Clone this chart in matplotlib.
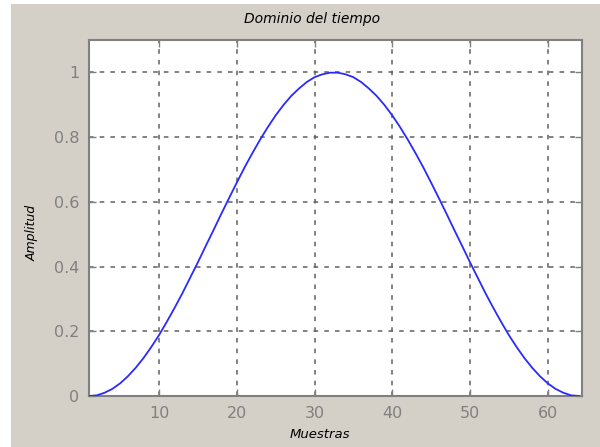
import matplotlib.pyplot as plt
from matplotlib.patches import Rectangle

# ventana de 64 muestras
muestras = list(range(1, 65))
amplitud = [0.000, 0.002, 0.010, 0.022, 0.039, 0.061, 0.087, 0.117,
            0.151, 0.188, 0.229, 0.272, 0.317, 0.365, 0.413, 0.463,
            0.512, 0.562, 0.611, 0.659, 0.706, 0.750, 0.792, 0.831,
            0.867, 0.899, 0.927, 0.950, 0.970, 0.985, 0.994, 0.999,
            0.999, 0.994, 0.985, 0.970, 0.950, 0.927, 0.899, 0.867,
            0.831, 0.792, 0.750, 0.706, 0.659, 0.611, 0.562, 0.512,
            0.463, 0.413, 0.365, 0.317, 0.272, 0.229, 0.188, 0.151,
            0.117, 0.087, 0.061, 0.039, 0.022, 0.010, 0.002, 0.000]
xticks = [10, 20, 30, 40, 50, 60]
yticks = [0, 0.2, 0.4, 0.6, 0.8, 1]

plt.rcParams['font.family'] = ['DejaVu Sans']

W, H = 600, 447
fig = plt.figure(figsize=(W / 100, H / 100), dpi=100, facecolor='white')
# fondo gris de la ventana
fig.add_artist(Rectangle((11 / W, 0), 1, 443 / H,
                         transform=fig.transFigure, facecolor='#d4d0c8',
                         edgecolor='none', zorder=-5))

ax = fig.add_axes([89 / W, 1 - 396 / H, 493 / W, 356 / H])
ax.set_facecolor('white')
ax.plot(muestras, amplitud, color='#2a2aff', lw=1.3, zorder=3)

ax.set_xlim(1, 64.4)
ax.set_ylim(0, 1.1)
ax.set_xticks(xticks)
ax.set_yticks(yticks)
ax.set_yticklabels(['0', '0.2', '0.4', '0.6', '0.8', '1'])
ax.grid(True, color='#606060', linestyle=(0, (3, 4)), linewidth=1.1)
ax.tick_params(direction='in', top=True, right=True, length=5, width=1,
               color='#808080', labelcolor='#808080', labelsize=11.5, pad=7)
for s in ax.spines.values():
    s.set_color('#808080')
    s.set_linewidth(1.5)

# titulo y etiquetas
fig.text(312 / W, 1 - 19 / H, 'Dominio del tiempo', fontsize=10,
         style='italic', ha='center', va='center')
fig.text(320 / W, 1 - 435 / H, 'Muestras', fontsize=9.5,
         style='italic', ha='center', va='center')
fig.text(32 / W, 1 - 233 / H, 'Amplitud', fontsize=9, rotation=90,
         style='italic', ha='center', va='center')

plt.savefig('out.png', dpi=100, facecolor=fig.get_facecolor())
